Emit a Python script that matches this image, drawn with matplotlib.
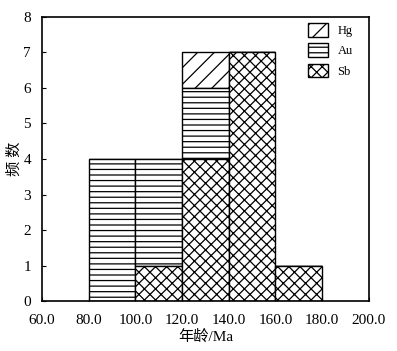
import numpy as np
import matplotlib.pyplot as plt

plt.rcParams['font.family'] = ['Liberation Serif', 'Noto Sans CJK SC']
plt.rcParams['hatch.linewidth'] = 0.9

bin_left = [80, 100, 120, 140, 160]
sb = [0, 1, 4, 7, 1]
au = [4, 3, 2, 0, 0]
hg = [0, 0, 1, 0, 0]

fig = plt.figure(figsize=(3.97, 3.51), dpi=100)
ax = fig.add_axes([0.106, 0.142, 0.823, 0.81])

sb = np.array(sb)
au = np.array(au)
hg = np.array(hg)
kw = dict(width=20, align='edge', color='white', edgecolor='black', linewidth=1.0)
ax.bar(bin_left, hg, bottom=sb + au, hatch='//', label='Hg', **kw)
ax.bar(bin_left, au, bottom=sb, hatch='---', label='Au', **kw)
ax.bar(bin_left, sb, hatch='xxx', label='Sb', **kw)

ax.set_xlim(60, 200)
ax.set_ylim(0, 8)
ax.set_xticks(np.arange(60, 201, 20))
ax.set_xticklabels(['%.1f' % v for v in np.arange(60, 201, 20)])
ax.set_yticks(range(9))
ax.tick_params(direction='in', labelsize=11, length=3)
ax.tick_params(axis='x', pad=9)
ax.tick_params(axis='y', pad=8)
for s in ax.spines.values():
    s.set_linewidth(1.2)
ax.set_xlabel('年龄/Ma', fontsize=11, labelpad=2)
ax.set_ylabel('频 数', fontsize=11, labelpad=1)

ax.legend(loc='upper right', frameon=False, fontsize=9, handlelength=1.6,
          handleheight=1.3, labelspacing=0.5, borderaxespad=0.1,
          bbox_to_anchor=(0.97, 1.0))

plt.savefig('out.png', dpi=100)
